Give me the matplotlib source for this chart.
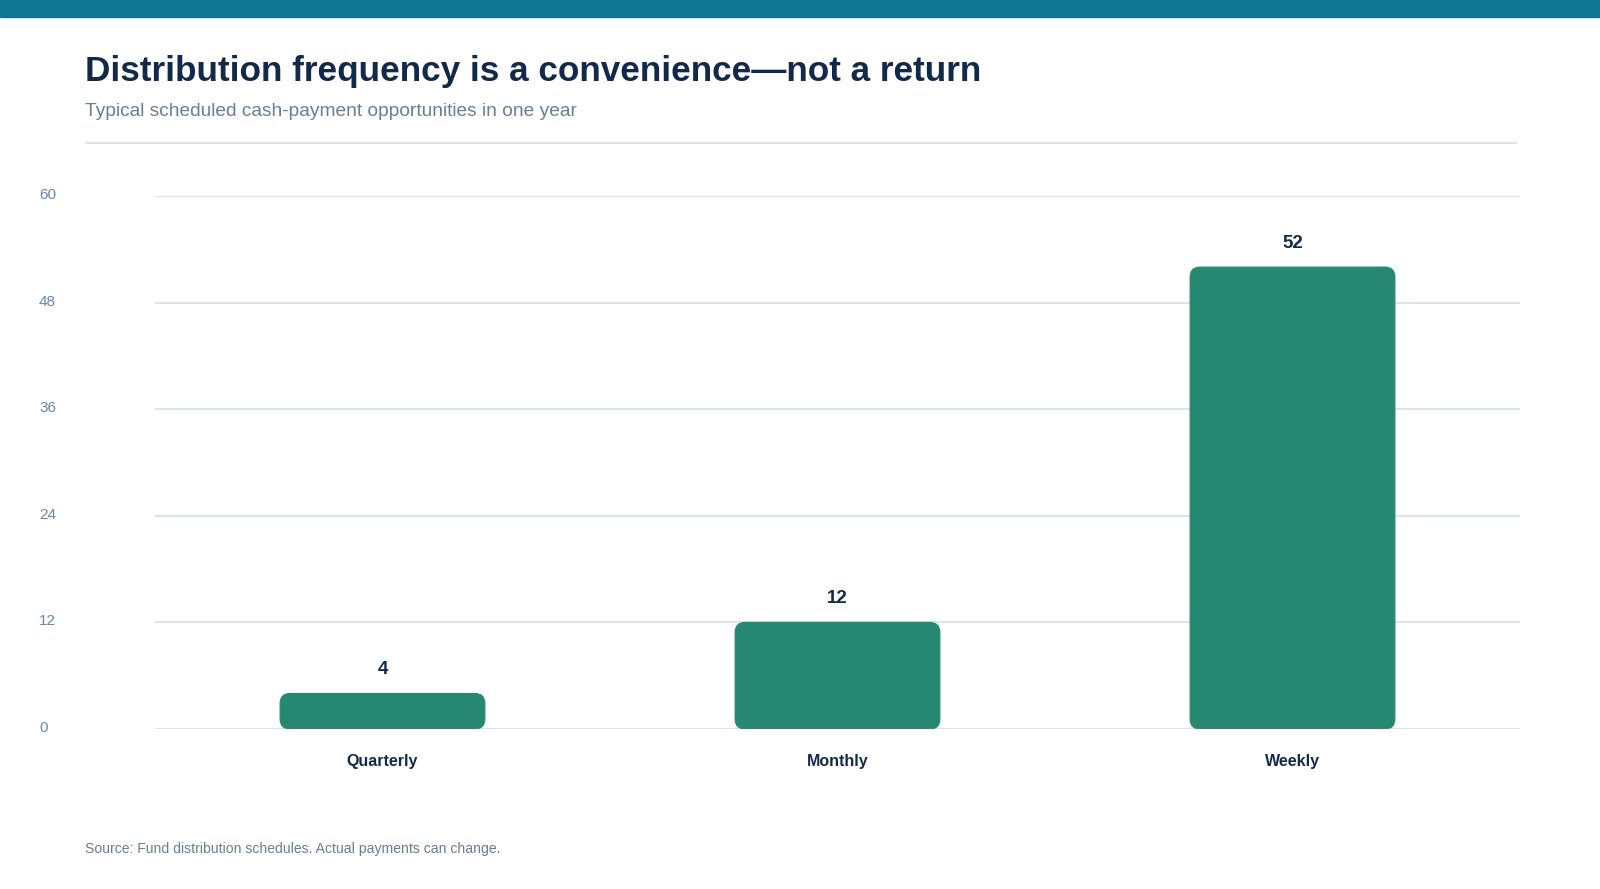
#Distribution frequency bar chart

import numpy as np
import matplotlib
matplotlib.use("Agg")
import matplotlib.pyplot as plt
from matplotlib.patches import FancyBboxPatch, Rectangle
from matplotlib.transforms import ScaledTranslation

#chart data
categories = ["Quarterly", "Monthly", "Weekly"]
payments = [4, 12, 52]
y_ticks = [0, 12, 24, 36, 48, 60]

title = "Distribution frequency is a convenience\u2014not a return"
subtitle = "Typical scheduled cash-payment opportunities in one year"
source = "Source: Fund distribution schedules. Actual payments can change."

BAR = "#268871"
NAVY = "#13294a"
MUTED = "#687d96"
TICK = "#6a86a8"
GRID = "#dbe4ec"

plt.rcParams['font.family'] = ['Liberation Sans', 'DejaVu Sans']

W, H = 1600, 889
fig = plt.figure(figsize=(W / 100, H / 100), dpi=100)

#top band
fig.patches.append(Rectangle((0, 1 - 16.5 / H), 1, 16.5 / H, transform=fig.transFigure,
                             color="#0f7592", zorder=0))

fig.text(85 / W, 1 - 72 / H, title, fontsize=25.3, fontweight='bold', color=NAVY, va='center')
fig.text(85 / W, 1 - 112 / H, subtitle, fontsize=13.8, color=MUTED, va='center')
fig.lines.append(plt.Line2D([86 / W, 1516 / W], [1 - 143 / H, 1 - 143 / H],
                            transform=fig.transFigure, color=GRID, lw=1.5))
fig.text(85 / W, 1 - 849 / H, source, fontsize=10.1, color=MUTED, va='center')

#plot area
left, right, top, bottom = 155, 1520, 196, 729
ax = fig.add_axes([left / W, 1 - bottom / H, (right - left) / W, (bottom - top) / H])
ax.set_xlim(-0.5, len(categories) - 0.5)
ax.set_ylim(0, 60)

x = np.arange(len(categories))
bars = ax.bar(x, payments, width=0.45, color=BAR)

#swap plain bars for rounded ones
radius_px = 10
x_per_px = (len(categories)) / (right - left)
y_per_px = 60 / (bottom - top)
for b in bars:
    b.set_visible(False)
    rb = FancyBboxPatch((b.get_x(), b.get_y()), b.get_width(), b.get_height(),
                        boxstyle="round,pad=0,rounding_size=%f" % (radius_px * x_per_px),
                        mutation_aspect=y_per_px / x_per_px,
                        facecolor=BAR, edgecolor=BAR, lw=0.8, zorder=3)
    ax.add_patch(rb)

for xi, v in zip(x, payments):
    ax.annotate(str(v), (xi, v), xytext=(0, 11), textcoords='offset points',
                ha='center', va='bottom', fontsize=13.5, fontweight='bold', color=NAVY)

ax.set_yticks(y_ticks)
ax.set_yticklabels([str(t) for t in y_ticks], ha='left')
ax.set_xticks(x)
ax.set_xticklabels(categories, fontweight='bold')
ax.tick_params(axis='y', length=0, pad=(left - 39) * 0.72, labelsize=11, labelcolor=TICK)
ax.tick_params(axis='x', length=0, pad=18, labelsize=11.5, labelcolor=NAVY)

#nudge y labels a little above their gridlines
for lab in ax.get_yticklabels():
    lab.set_transform(lab.get_transform() + ScaledTranslation(0, 2.5 / 100, fig.dpi_scale_trans))

ax.grid(axis='y', color=GRID, lw=1.5, zorder=0)
ax.set_axisbelow(True)
for s in ax.spines.values():
    s.set_visible(False)

fig.savefig("out.png", dpi=100)
